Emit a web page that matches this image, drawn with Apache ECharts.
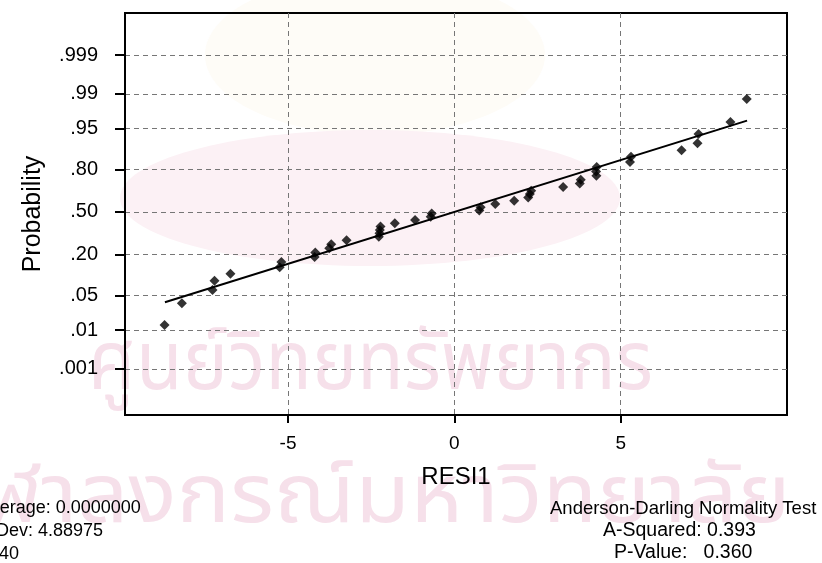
<!DOCTYPE html>
<html>
<head>
<meta charset="utf-8">
<script src="https://cdn.jsdelivr.net/npm/echarts@6/dist/echarts.min.js"></script>
<style>
  html, body { margin: 0; padding: 0; background: #fff; }
  #main { width: 822px; height: 563px; }
</style>
</head>
<body>
<div id="main"></div>
<script>
  // residuals, sorted, and the probability (%) each one is plotted at
  const resid = [-8.71, -8.19, -7.27, -7.21, -6.73, -5.25, -5.20, -4.20, -4.18, -3.76,
                 -3.70, -3.24, -2.27, -2.25, -2.24, -2.22, -1.79, -1.18, -0.71, -0.68,
                  0.75,  0.79,  1.23,  1.80,  2.22,  2.27,  2.31,  3.27,  3.77,  3.80,
                  4.27,  4.26,  4.28,  5.28,  5.31,  6.83,  7.31,  7.34,  8.30,  8.79];
  const probPct = [1.3, 3.6, 6.2, 8.8, 11.2, 13.8, 16.2, 18.8, 21.2, 23.8,
                   26.2, 28.8, 31.2, 33.8, 36.2, 38.8, 41.2, 43.8, 46.2, 48.8,
                   51.2, 53.8, 56.2, 58.8, 61.2, 63.8, 66.2, 68.8, 71.2, 73.8,
                   76.2, 78.8, 81.2, 83.8, 86.2, 88.8, 91.2, 93.8, 96.2, 98.7];

  const probTicks = [0.001, 0.01, 0.05, 0.2, 0.5, 0.8, 0.95, 0.99, 0.999];
  const probLabels = ['.001', '.01', '.05', '.20', '.50', '.80', '.95', '.99', '.999'];
  const xTicks = [-5, 0, 5];

  // fitted normal line, drawn between the smallest and largest residual
  const fitX = [-8.7, 8.8];
  const mean = 0.0, stdev = 4.88975;
  const statLines = ['Average: 0.0000000', 'StDev: 4.88975', 'N: 40'];
  const adLines = ['Anderson-Darling Normality Test', 'A-Squared: 0.393', 'P-Value:   0.360'];
  const watermark = ['ศูนย์วิทยทรัพยากร', 'จุฬาลงกรณ์มหาวิทยาลัย'];

  const xMin = -9.9, xMax = 10, zMin = -4, zMax = 3.92;

  // inverse normal cdf (Acklam) - the probability axis is linear in z
  function probit(p) {
    const a = [-39.69683028665376, 220.9460984245205, -275.9285104469687, 138.3577518672690, -30.66479806614716, 2.506628277459239];
    const b = [-54.47609879822406, 161.5858368580409, -155.6989798598866, 66.80131188771972, -13.28068155288572];
    const c = [-0.007784894002430293, -0.3223964580411365, -2.400758277161838, -2.549732539343734, 4.374664141464968, 2.938163982698783];
    const d = [0.007784695709041462, 0.3224671290700398, 2.445134137142996, 3.754408661907416];
    const pl = 0.02425;
    let q, r;
    if (p < pl) {
      q = Math.sqrt(-2 * Math.log(p));
      return (((((c[0]*q+c[1])*q+c[2])*q+c[3])*q+c[4])*q+c[5]) / ((((d[0]*q+d[1])*q+d[2])*q+d[3])*q+1);
    }
    if (p > 1 - pl) {
      q = Math.sqrt(-2 * Math.log(1 - p));
      return -(((((c[0]*q+c[1])*q+c[2])*q+c[3])*q+c[4])*q+c[5]) / ((((d[0]*q+d[1])*q+d[2])*q+d[3])*q+1);
    }
    q = p - 0.5; r = q * q;
    return (((((a[0]*r+a[1])*r+a[2])*r+a[3])*r+a[4])*r+a[5])*q / (((((b[0]*r+b[1])*r+b[2])*r+b[3])*r+b[4])*r+1);
  }

  const zTicks = probTicks.map(probit);
  function probLabel(v) {
    let best = 0;
    zTicks.forEach((z, i) => { if (Math.abs(z - v) < Math.abs(zTicks[best] - v)) best = i; });
    return probLabels[best];
  }

  const font = '"Liberation Sans", Arial, sans-serif';
  const thaiFont = '"Noto Sans Thai", "DejaVu Sans", sans-serif';
  const gridLine = { show: true, lineStyle: { type: [5, 4], color: '#767676', width: 1 } };
  const frameLine = { show: true, onZero: false, lineStyle: { color: '#000', width: 2 } };

  function txt(text, x, y, size, fill, family, scaleX) {
    return {
      type: 'text', x: x, y: y, scaleX: scaleX || 1,
      style: { text: text, fontSize: size, fontFamily: family || font, fill: fill || '#000',
               align: 'left', verticalAlign: 'middle' }
    };
  }

  // text blocks and the faint scanned watermark, drawn by custom series (no extra components)
  function overlay(children, z) {
    return {
      type: 'custom', clip: false, silent: true, z: z,
      data: [[0, 0]],
      renderItem: () => ({ type: 'group', children: children })
    };
  }

  const notes = [
    txt(statLines[0], -21, 508, 18),
    txt(statLines[1], -21, 531, 18),
    txt(statLines[2], -24, 554, 18),
    txt(adLines[0], 550, 509, 18.5),
    txt(adLines[1], 603, 531, 19.5),
    txt(adLines[2], 614, 553, 19.5)
  ];
  const backdrop = [
    { type: 'ellipse', shape: { cx: 375, cy: 55, rx: 170, ry: 80 }, style: { fill: '#fefcf7' } },
    { type: 'ellipse', shape: { cx: 370, cy: 198, rx: 250, ry: 68 }, style: { fill: '#fcf1f5' } },
    txt(watermark[0], 88, 372, 82, '#f6e0ea', thaiFont, 0.93),
    txt(watermark[1], -66, 505, 82, '#f6e0ea', thaiFont, 1.09)
  ];

  const option = {
    animation: false,
    backgroundColor: '#fff',
    grid: {
      left: 125, top: 13, width: 662, height: 402,
      show: true, borderColor: '#000', borderWidth: 2
    },
    xAxis: {
      type: 'value', min: xMin, max: xMax,
      name: 'RESI1', nameLocation: 'middle', nameGap: 50,
      nameTextStyle: { fontSize: 24, color: '#000', fontFamily: font },
      axisLine: frameLine,
      axisTick: { show: true, customValues: xTicks, length: 8, lineStyle: { color: '#000', width: 2 } },
      axisLabel: { customValues: xTicks, fontSize: 19, color: '#000', fontFamily: font, margin: 19 },
      splitLine: gridLine
    },
    yAxis: {
      type: 'value', min: zMin, max: zMax,
      name: 'Probability', nameLocation: 'middle', nameGap: 79,
      nameTextStyle: { fontSize: 25, color: '#000', fontFamily: font },
      axisLine: frameLine,
      axisTick: { show: true, customValues: zTicks, length: 10, lineStyle: { color: '#000', width: 2 } },
      axisLabel: { customValues: zTicks, formatter: probLabel, fontSize: 20, color: '#000', fontFamily: font, margin: 27 },
      splitLine: gridLine
    },
    series: [
      overlay(backdrop, -1),
      {
        type: 'line',
        data: fitX.map(x => [x, (x - mean) / stdev]),
        showSymbol: false,
        lineStyle: { color: '#000', width: 2 },
        z: 3
      },
      {
        type: 'scatter',
        data: resid.map((x, i) => [x, probit(probPct[i] / 100)]),
        symbol: 'diamond',
        symbolSize: 10,
        itemStyle: { color: '#000' },
        z: 4
      },
      overlay(notes, 5)
    ]
  };

  const chart = echarts.init(document.getElementById('main'));
  chart.setOption(option);
</script>
</body>
</html>
